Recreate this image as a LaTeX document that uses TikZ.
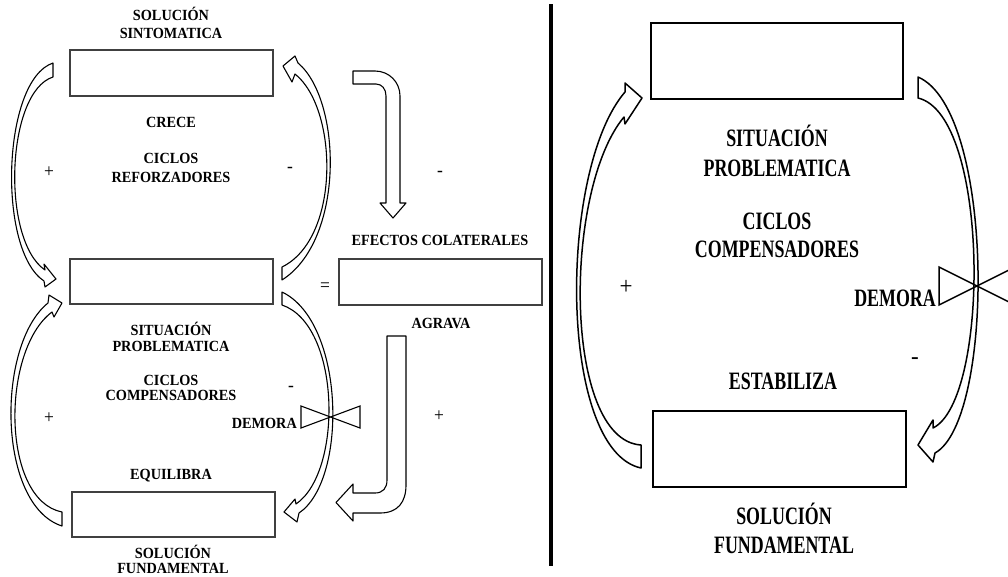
\documentclass[tikz,border=0pt]{standalone}
\usepackage{fontspec}
\newfontfamily\smallserif{Liberation Serif}[FakeStretch=0.92]
\newfontfamily\tallserif{Liberation Serif}[FakeStretch=0.716]
\newcommand\smalltxt{\smallserif\bfseries\fontsize{15.5}{18}\selectfont}
\newcommand\talltxt{\tallserif\bfseries\fontsize{25}{29}\selectfont}
\tikzset{
  lbox/.style={draw=black!75, line width=1.1pt, fill=white, inner sep=0pt},
  rbox/.style={draw=black, line width=1.5pt, fill=white, inner sep=0pt},
  larrow/.style={draw=black, line width=1.1pt, fill=white, line join=round},
  rarrow/.style={draw=black, line width=1.5pt, fill=white, line join=round},
  ltext/.style={font=\smalltxt, inner sep=0pt, anchor=base},
  rtext/.style={font=\talltxt, inner sep=0pt, anchor=base},
  lsign/.style={font=\smallserif\fontsize{19}{22}\selectfont, inner sep=0pt},
  rsign/.style={font=\smallserif\fontsize{25}{29}\selectfont, inner sep=0pt},
}
\begin{document}
\begin{tikzpicture}[x=1pt,y=-1pt]
\useasboundingbox (0,0) rectangle (1008,576);
\clip (0,0) rectangle (1008,576);

% ---------- left half: reinforcing and balancing loops ----------
\node[lbox, minimum width=203pt, minimum height=46pt] (sintbox) at (171.5,73) {};
\node[lbox, minimum width=203pt, minimum height=45pt] (sitbox) at (171.5,281.5) {};
\node[lbox, minimum width=203pt, minimum height=45pt] (fundbox) at (173.5,514.5) {};
\node[lbox, minimum width=203pt, minimum height=46pt] (efbox) at (440.5,282) {};

% reinforcing loop, left side
\draw[larrow] (53,63) .. controls (2,80) and (-3,250) .. (44,281) -- (45,287) -- (56,279)
  -- (44,264) -- (45,270) .. controls (1,240) and (6,92) .. (53,77) -- cycle;
% reinforcing loop, right side
\draw[larrow] (282,280) .. controls (345,240) and (342,100) .. (298,63) -- (295,56) -- (283,66)
  -- (292,82) -- (295,74) .. controls (338,108) and (341,238) .. (282,267) -- cycle;
% balancing loop, left side
\draw[larrow] (62,526) .. controls (-3,505) and (-4,345) .. (48,303) -- (49,295) -- (62,303)
  -- (54,317) -- (52,312) .. controls (1,350) and (1,500) .. (62,512) -- cycle;
% balancing loop, right side
\draw[larrow] (282,292) .. controls (345,322) and (348,480) .. (299,513) -- (297,522) -- (284,512)
  -- (295,499) -- (296,504) .. controls (343,472) and (341,325) .. (282,305) -- cycle;
% delay valve
\draw[draw=black, line width=1.1pt, line join=miter] (301,406) -- (360,428) -- (360,406) -- (301,428) -- cycle;

% bent arrow down to the side effects
\draw[larrow] (353,71) -- (375,71) .. controls (389,71) and (400,82) .. (400,96) -- (400,203)
  -- (406,203) -- (393,218) -- (380,203) -- (386,203) -- (386,96)
  .. controls (386,89) and (382,84) .. (376,84) -- (353,84) -- cycle;
% bent arrow from the side effects to the fundamental solution
\draw[larrow] (387,336) -- (406,336) -- (406,485) .. controls (406,502) and (398,513) .. (380,513)
  -- (353,513) -- (353,521) -- (336,502.5) -- (353,484) -- (353,493) -- (375,493)
  .. controls (383,493) and (387,488) .. (387,480) -- cycle;

\node[ltext] (solsint1) at (171,20) {SOLUCIÓN};
\node[ltext] (solsint2) at (171,38) {SINTOMATICA};
\node[ltext] (crece) at (171,127) {CRECE};
\node[ltext] (cicref1) at (171,163) {CICLOS};
\node[ltext] (cicref2) at (171,182) {REFORZADORES};
\node[ltext] (sitl1) at (171,335) {SITUACIÓN};
\node[ltext] (sitl2) at (171,351) {PROBLEMATICA};
\node[ltext] (cicl1) at (171,385) {CICLOS};
\node[ltext] (cicl2) at (171,400) {COMPENSADORES};
\node[ltext] (equil) at (171,479) {EQUILIBRA};
\node[ltext] (solfl1) at (173,558) {SOLUCIÓN};
\node[ltext] (solfl2) at (173,573.5) {FUNDAMENTAL};
\node[ltext] (efectos) at (440,245) {EFECTOS COLATERALES};
\node[ltext] (agrava) at (441,328) {AGRAVA};
\node[ltext, anchor=base east] (demoral) at (297,428) {DEMORA};

\node[lsign] (p1) at (49,172) {+};
\node[lsign] (m1) at (290,170) {-};
\node[lsign] (m2) at (440,174) {-};
\node[lsign] (eq) at (325,287) {=};
\node[lsign] (p2) at (49,418) {+};
\node[lsign] (m3) at (291,389) {-};
\node[lsign] (p3) at (439,416) {+};

% ---------- divider ----------
\draw[line width=3.5pt] (551,4) -- (551,566);

% ---------- right half: balancing loop with delay ----------
\node[rbox, minimum width=252pt, minimum height=76pt] (sitbig) at (777,61) {};
\node[rbox, minimum width=253pt, minimum height=76pt] (fundbig) at (779.5,449) {};

\draw[rarrow] (641,468) .. controls (558,450) and (558,170) .. (625,92) -- (625,83) -- (642,98)
  -- (625,124) -- (624,117) .. controls (563,190) and (563,440) .. (641,445) -- cycle;
\draw[rarrow] (918,77) .. controls (995,110) and (995,420) .. (935,453) -- (933,462) -- (918,445)
  -- (933,420) -- (933,428) .. controls (990,400) and (990,115) .. (918,98) -- cycle;
\draw[draw=black, line width=1.5pt, line join=miter] (939,267) -- (1015,305) -- (1015,267) -- (939,305) -- cycle;

\node[rtext] (sitr1) at (777,146) {SITUACIÓN};
\node[rtext] (sitr2) at (777,176) {PROBLEMATICA};
\node[rtext] (cicr1) at (777,229) {CICLOS};
\node[rtext] (cicr2) at (777,257) {COMPENSADORES};
\node[rtext] (estab) at (783,389) {ESTABILIZA};
\node[rtext] (solfr1) at (784,524) {SOLUCIÓN};
\node[rtext] (solfr2) at (784,553) {FUNDAMENTAL};
\node[rtext, anchor=base east] (demorar) at (936,306) {DEMORA};

\node[rsign] (p4) at (626,287) {+};
\node[rsign] (m4) at (915,361) {-};
\end{tikzpicture}
\end{document}
